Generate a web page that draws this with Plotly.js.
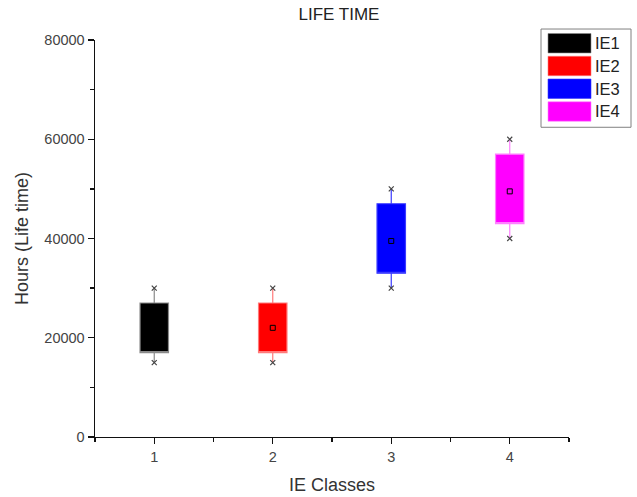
<!DOCTYPE html>
<html><head><meta charset="utf-8">
<script src="https://cdn.plot.ly/plotly-3.0.1.min.js"></script>
<style>body{margin:0;background:#fff}#chart{width:637px;height:497px}</style>
</head><body><div id="chart"></div>
<script>
const classes = [1, 2, 3, 4];
const names = ['IE1', 'IE2', 'IE3', 'IE4'];
const q1 = [17000, 17000, 33000, 43000];
const q3 = [27000, 27000, 47000, 57000];
const minVals = [15000, 15000, 30000, 40000];
const maxVals = [30000, 30000, 50000, 60000];
const means = [22000, 22000, 39500, 49500];
const colors = ['#000000', '#ff0000', '#0000ff', '#ff00ff'];
const whiskerColors = ['#8a8a8a', '#ff7a7a', '#3a3aff', '#ff80ff'];

const FONT = 'Liberation Sans, Arial, sans-serif';
const L = 95, R = 569, T = 39.5, B = 437.5;
const px = v => (v - L) / (R - L);
const py = v => (B - v) / (B - T);

const traces = [];
for (let i = 0; i < classes.length; i++) {
  traces.push({
    type: 'box', name: names[i], x: [classes[i]],
    q1: [q1[i]], median: [q1[i]], q3: [q3[i]],
    lowerfence: [minVals[i]], upperfence: [maxVals[i]],
    width: 0.24, whiskerwidth: 0,
    fillcolor: colors[i], line: {color: whiskerColors[i], width: 1.2},
    showlegend: false, hoverinfo: 'skip'
  });
}
traces.push({
  type: 'scatter', mode: 'markers', x: classes, y: means, showlegend: false,
  marker: {symbol: 'square-open', size: 5, color: '#000', line: {width: 1}}
});
traces.push({
  type: 'scatter', mode: 'markers', x: classes.concat(classes), y: minVals.concat(maxVals),
  showlegend: false,
  marker: {symbol: 'x-thin-open', size: 5, color: '#444', line: {width: 1.2, color: '#444'}}
});

// legend drawn from names / colors
const shapes = [{type: 'rect', xref: 'paper', yref: 'paper',
  x0: px(541), x1: px(631), y0: py(127), y1: py(28.5),
  line: {color: '#808080', width: 1}, fillcolor: 'rgba(0,0,0,0)'}];
const annotations = [];
for (let i = 0; i < names.length; i++) {
  const top = 33 + i * 22.8, bot = top + 19.5;
  shapes.push({type: 'rect', xref: 'paper', yref: 'paper',
    x0: px(548), x1: px(591), y0: py(bot), y1: py(top),
    fillcolor: colors[i], line: {color: whiskerColors[i], width: 0.6}});
  annotations.push({xref: 'paper', yref: 'paper', x: px(593), y: py((top + bot) / 2),
    xanchor: 'left', yanchor: 'middle', text: names[i], showarrow: false,
    font: {family: FONT, size: 16.5, color: '#222'}});
}

const layout = {
  width: 637, height: 497,
  margin: {l: L, r: 637 - R, t: T, b: 497 - B},
  paper_bgcolor: '#fff', plot_bgcolor: '#fff',
  title: {text: 'LIFE TIME', x: px(339), xref: 'paper', xanchor: 'center', y: 1 - 14 / 497, yanchor: 'middle',
    font: {family: FONT, size: 17, color: '#222'}},
  xaxis: {
    range: [0.5, 4.5], tickvals: classes, ticktext: classes.map(String),
    showline: true, linecolor: '#111', linewidth: 1.4, showgrid: false, zeroline: false,
    ticks: 'outside', ticklen: 6, tickcolor: '#111', tickwidth: 1.4,
    minor: {tickmode: 'array', tickvals: [0.5, 1.5, 2.5, 3.5, 4.5], ticks: 'outside', ticklen: 4, tickcolor: '#111', tickwidth: 1.4},
    tickfont: {family: FONT, size: 14.5, color: '#444'},
    title: {text: 'IE Classes', font: {family: FONT, size: 18, color: '#333'}, standoff: 14}
  },
  yaxis: {
    range: [0, 80000], dtick: 20000, tick0: 0, tickformat: 'd',
    showline: true, linecolor: '#111', linewidth: 1.4, showgrid: false, zeroline: false,
    ticks: 'outside', ticklen: 6, tickcolor: '#111', tickwidth: 1.4,
    minor: {dtick: 10000, ticks: 'outside', ticklen: 4, tickcolor: '#111', tickwidth: 1.4},
    tickfont: {family: FONT, size: 14.5, color: '#444'},
    title: {text: 'Hours (Life time)', font: {family: FONT, size: 18, color: '#333'}, standoff: 11}
  },
  shapes: shapes, annotations: annotations,
  showlegend: false
};
Plotly.newPlot('chart', traces, layout, {displayModeBar: false, staticPlot: true});
</script></body></html>
